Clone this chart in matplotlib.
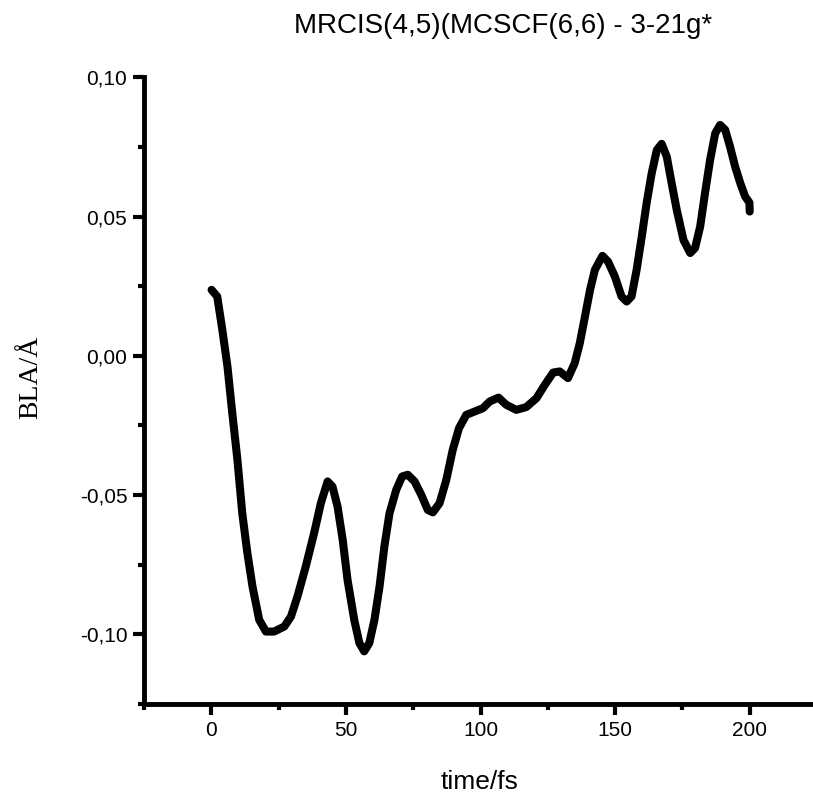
import matplotlib
matplotlib.use("Agg")
import matplotlib.pyplot as plt

# BLA trajectory
time_fs = [0.1, 2.2, 4.1, 6.0, 7.8, 9.7, 11.5, 13.4, 15.3, 17.8, 20.3, 23.3,
           27.1, 29.6, 32.0, 35.1, 38.2, 40.7, 43.2, 45.0, 46.9, 48.8, 50.6,
           53.1, 55.0, 56.8, 58.7, 60.6, 62.5, 64.3, 66.2, 68.7, 70.9, 73.0,
           75.5, 78.0, 80.4, 82.3, 84.8, 87.3, 89.7, 92.0, 94.7, 97.8, 100.9,
           103.4, 106.7, 109.6, 113.3, 117.0, 120.8, 123.9, 127.0, 129.4,
           132.5, 135.0, 136.9, 138.8, 140.7, 142.5, 145.3, 147.4, 149.9,
           152.4, 154.3, 156.1, 158.0, 159.9, 161.7, 163.6, 165.5, 167.3,
           169.2, 171.0, 172.9, 175.4, 177.9, 179.7, 181.6, 183.4, 185.3,
           187.2, 189.0, 190.9, 192.7, 194.6, 196.5, 198.3, 199.9, 200.0]
bla = [0.0237, 0.0213, 0.0093, -0.0038, -0.0206, -0.0373, -0.0565, -0.0708,
       -0.0828, -0.0948, -0.0990, -0.0990, -0.0972, -0.0936, -0.0864, -0.0756,
       -0.0636, -0.0529, -0.0451, -0.0469, -0.0541, -0.0660, -0.0804, -0.0948,
       -0.1031, -0.1061, -0.1031, -0.0948, -0.0828, -0.0684, -0.0565, -0.0481,
       -0.0433, -0.0427, -0.0451, -0.0499, -0.0553, -0.0562, -0.0529, -0.0445,
       -0.0337, -0.0260, -0.0212, -0.0200, -0.0188, -0.0164, -0.0150, -0.0176,
       -0.0194, -0.0184, -0.0152, -0.0104, -0.0060, -0.0056, -0.0080, -0.0026,
       0.0046, 0.0141, 0.0237, 0.0309, 0.0359, 0.0338, 0.0285, 0.0213,
       0.0195, 0.0213, 0.0309, 0.0428, 0.0548, 0.0656, 0.0739, 0.0761,
       0.0715, 0.0620, 0.0524, 0.0416, 0.0369, 0.0387, 0.0464, 0.0584,
       0.0704, 0.0799, 0.0829, 0.0811, 0.0751, 0.0679, 0.0620, 0.0572,
       0.0550, 0.0518]

x_ticks = [0, 50, 100, 150, 200]
x_minor = [-25, 25, 75, 125, 175, 225]
y_ticks = [-0.10, -0.05, 0.00, 0.05, 0.10]
y_labels = ["-0,10", "-0,05", "0,00", "0,05", "0,10"]
y_minor = [-0.125, -0.075, -0.025, 0.025, 0.075]

TITLE = "MRCIS(4,5)(MCSCF(6,6) - 3-21g*"
SANS = "Liberation Sans"
SERIF = "Liberation Serif"

W, H = 813, 795


def main():
    fig = plt.figure(figsize=(W / 100, H / 100), dpi=100)
    ax = fig.add_axes([144 / W, 1 - 704 / H, (817 - 144) / W, (704 - 77.3) / H])

    ax.plot(time_fs, bla, color="black", linewidth=5.8,
            solid_joinstyle="round", solid_capstyle="round")

    ax.set_xlim(-25, 225)
    ax.set_ylim(-0.125, 0.10)
    ax.set_xticks(x_ticks)
    ax.set_xticks(x_minor, minor=True)
    ax.set_yticks(y_ticks)
    ax.set_yticklabels(y_labels)
    ax.set_yticks(y_minor, minor=True)

    for side in ("top", "right"):
        ax.spines[side].set_visible(False)
    for side in ("left", "bottom"):
        ax.spines[side].set_linewidth(3.5)

    ax.tick_params(which="major", direction="out", length=8, width=3,
                   labelsize=15, pad=4)
    ax.tick_params(which="minor", direction="out", length=4, width=3)
    for lab in ax.get_xticklabels() + ax.get_yticklabels():
        lab.set_family(SANS)

    fig.text(503.5 / W, 1 - 33 / H, TITLE, family=SANS, fontsize=20,
             ha="center", va="baseline")
    fig.text(480 / W, 1 - 789 / H, "time/fs", family=SANS, fontsize=19,
             ha="center", va="baseline")
    fig.text(31 / W, 1 - 377 / H, "BLA/Å", family=SERIF, fontsize=20,
             rotation=90, ha="center", va="center")

    fig.savefig("out.png", dpi=100)


if __name__ == "__main__":
    main()
